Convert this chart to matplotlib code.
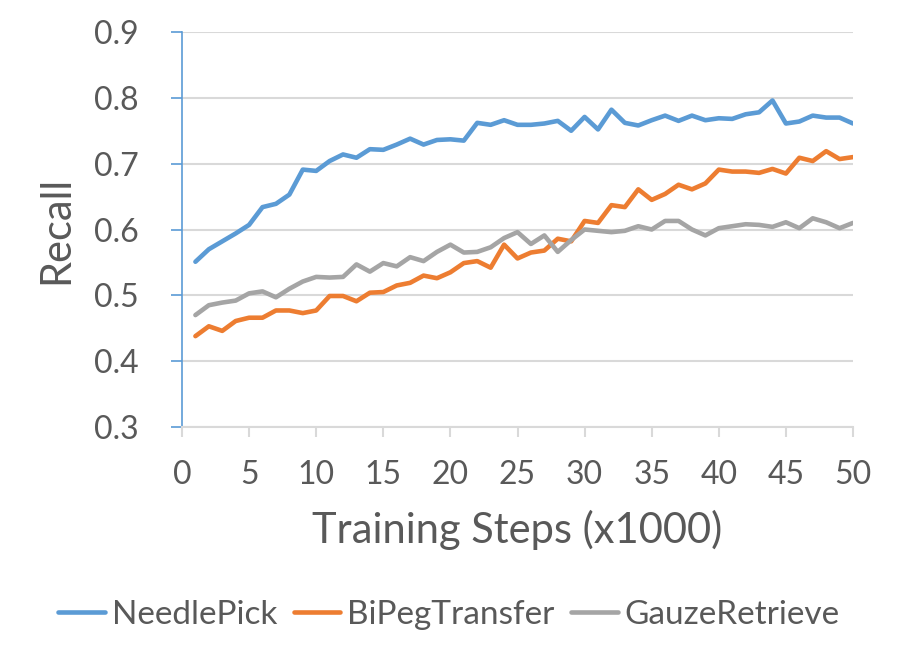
import numpy as np
from matplotlib import pyplot as plt

steps = np.arange(1, 51)

needle_pick = [
    0.551, 0.570, 0.582, 0.594, 0.607, 0.634, 0.639, 0.653, 0.691, 0.689,
    0.704, 0.714, 0.709, 0.722, 0.721, 0.729, 0.738, 0.729, 0.736, 0.737,
    0.735, 0.762, 0.759, 0.766, 0.759, 0.759, 0.761, 0.765, 0.750, 0.771,
    0.752, 0.782, 0.762, 0.758, 0.766, 0.773, 0.765, 0.773, 0.766, 0.769,
    0.768, 0.775, 0.778, 0.796, 0.761, 0.764, 0.773, 0.770, 0.770, 0.761,
]
bipeg_transfer = [
    0.438, 0.453, 0.446, 0.461, 0.466, 0.466, 0.477, 0.477, 0.473, 0.477,
    0.499, 0.499, 0.491, 0.504, 0.505, 0.515, 0.519, 0.530, 0.526, 0.535,
    0.549, 0.552, 0.542, 0.577, 0.556, 0.565, 0.568, 0.586, 0.582, 0.613,
    0.610, 0.637, 0.634, 0.661, 0.645, 0.654, 0.668, 0.661, 0.670, 0.691,
    0.688, 0.688, 0.686, 0.692, 0.685, 0.709, 0.704, 0.719, 0.707, 0.710,
]
gauze_retrieve = [
    0.470, 0.485, 0.489, 0.492, 0.503, 0.506, 0.497, 0.510, 0.521, 0.528,
    0.527, 0.528, 0.547, 0.536, 0.549, 0.544, 0.558, 0.552, 0.566, 0.577,
    0.565, 0.566, 0.573, 0.587, 0.596, 0.578, 0.591, 0.566, 0.584, 0.600,
    0.598, 0.596, 0.598, 0.605, 0.600, 0.613, 0.613, 0.600, 0.591, 0.602,
    0.605, 0.608, 0.607, 0.604, 0.611, 0.602, 0.617, 0.611, 0.602, 0.610,
]

series = [
    ("NeedlePick", needle_pick, "#5B9BD5"),
    ("BiPegTransfer", bipeg_transfer, "#ED7D31"),
    ("GauzeRetrieve", gauze_retrieve, "#A5A5A5"),
]

text_color = "#595959"
plt.rcParams["font.family"] = ["Lato", "DejaVu Sans"]

fig = plt.figure(figsize=(8.98, 6.6), dpi=100)
ax = fig.add_axes([182 / 898, 1 - 427 / 660, 671 / 898, 395 / 660])

for name, values, color in series:
    ax.plot(steps, values, color=color, lw=3.3, label=name, solid_capstyle="round")

ax.set_xlim(0, 50)
ax.set_ylim(0.3, 0.9)
ax.set_xticks(np.arange(0, 51, 5))
ax.set_yticks(np.arange(0.3, 0.91, 0.1))
ax.yaxis.set_major_formatter(plt.FuncFormatter(lambda v, p: f"{v:.1f}"))

ax.grid(axis="y", color="#D9D9D9", lw=1.5)
ax.set_axisbelow(True)
for s in ["top", "right"]:
    ax.spines[s].set_visible(False)
ax.spines["left"].set_color("#5B9BD5")
ax.spines["left"].set_linewidth(1.2)
ax.spines["bottom"].set_color("#D9D9D9")
ax.spines["bottom"].set_linewidth(1.5)

ax.tick_params(axis="y", colors="#5B9BD5", length=8, width=1.2, pad=23,
               labelsize=23, labelcolor=text_color)
ax.tick_params(axis="x", colors="#D9D9D9", length=7, width=1.5, pad=17,
               labelsize=23, labelcolor=text_color)

ax.set_xlabel("Training Steps (x1000)", fontsize=30, color=text_color, labelpad=14)
ax.set_ylabel("Recall", fontsize=30, color=text_color, labelpad=14)

fig.legend(loc="center", bbox_to_anchor=(0.5, 1 - 615 / 660), ncol=3,
           frameon=False, fontsize=24, labelcolor=text_color,
           handlelength=1.4, handletextpad=0.2, columnspacing=0.5)

fig.savefig("out.png", dpi=100)
